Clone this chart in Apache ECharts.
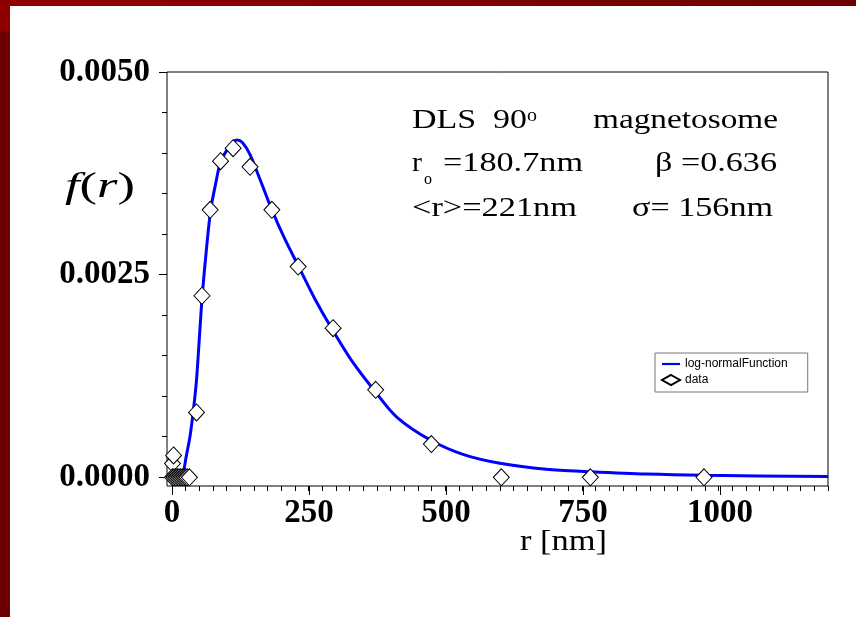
<!DOCTYPE html>
<html>
<head>
<meta charset="utf-8">
<script src="https://cdn.jsdelivr.net/npm/echarts@6/dist/echarts.min.js"></script>
<style>
  html, body { margin: 0; padding: 0; background: #fff; }
  #main { width: 856px; height: 617px; }
</style>
</head>
<body>
<div id="main"></div>
<script>
// fitted curve
var curveR = [0, 10, 18, 21, 25, 32, 38, 44, 51, 55, 62, 70, 79, 88, 100, 110, 118, 128, 142, 160, 182, 205, 231, 260, 292, 330, 373, 411, 472, 533, 602, 684, 765, 868, 975, 1200];
var curveF = [0, 0, 0.00001, 0.00009, 0.00025, 0.0005, 0.00081, 0.0012, 0.0019, 0.00228, 0.0028, 0.0033, 0.00362, 0.00389, 0.00404, 0.00413, 0.00416, 0.00413, 0.00398, 0.00368, 0.0033, 0.00295, 0.0026, 0.00221, 0.00183, 0.00142, 0.00104, 0.00074, 0.00046, 0.00028, 0.00017, 0.0001, 0.00007, 0.00004, 0.000025, 0.00001];

// measured points
var dataR = [0, 2, 0, 3, 6, 9, 12, 15, 18, 21, 24, 27, 31, 44, 54, 69, 88, 111, 142, 182, 230, 294, 372, 474, 602, 765, 973];
var dataF = [0.00017, 0.00027, 0, 0, 0, 0, 0, 0, 0, 0, 0, 0, 0, 0.0008, 0.00224, 0.0033, 0.0039, 0.00406, 0.00383, 0.0033, 0.0026, 0.00184, 0.00108, 0.00041, 0, 0, 0];

var xTicks = [0, 250, 500, 750, 1000];
var yTicks = ['0.0000', '0.0025', '0.0050'];

var serif = '"Liberation Serif", "Times New Roman", serif';

function zip(a, b) {
  var out = [];
  for (var i = 0; i < a.length; i++) out.push([a[i], b[i]]);
  return out;
}

var cv = document.createElement('canvas').getContext('2d');
function textW(t, size, style) {
  cv.font = (style || 'normal') + ' ' + size + 'px ' + serif;
  return cv.measureText(t).width;
}

// text stretched to span x0..x1 (the slide is stretched horizontally)
function label(t, x0, x1, yc, size, style) {
  var sx = x1 ? (x1 - x0) / textW(t, size, style) : 1;
  return {
    type: 'text', x: x0, y: yc, scaleX: sx, z: 20,
    style: {
      text: t, fill: '#000', fontFamily: serif, fontSize: size,
      fontStyle: style || 'normal', align: 'left', verticalAlign: 'middle'
    }
  };
}

var chart = echarts.init(document.getElementById('main'), null, { renderer: 'canvas' });

var fW = textW('f', 36, 'italic') + textW('(', 36) + textW('r', 36, 'italic') + textW(')', 36);

var tickStyle = { color: '#000', width: 1 };

var option = {
  backgroundColor: '#fff',
  animation: false,
  grid: [
    { left: 167, right: 28, top: 72, bottom: 131, show: true, borderColor: '#000', borderWidth: 1, outerBoundsMode: 'none' },
    { left: 172, right: 28, top: 72, bottom: 131, outerBoundsMode: 'none' },
    { left: 172, right: 136, top: 72, bottom: 131, outerBoundsMode: 'none' },
    { left: 167, right: 28, top: 72, bottom: 140, outerBoundsMode: 'none' }
  ],
  xAxis: [
    { gridIndex: 0, type: 'value', min: -10, max: 1200, show: false },
    {
      gridIndex: 1, type: 'value', min: 0, max: 1200, interval: 25, position: 'bottom',
      axisLine: { show: false }, splitLine: { show: false },
      axisTick: { length: 5, lineStyle: tickStyle }, axisLabel: { show: false }
    },
    {
      gridIndex: 2, type: 'value', min: xTicks[0], max: xTicks[xTicks.length - 1], interval: 250, position: 'bottom',
      axisLine: { show: false }, splitLine: { show: false },
      axisTick: { length: 9, lineStyle: tickStyle },
      axisLabel: { color: '#000', fontFamily: serif, fontWeight: 'bold', fontSize: 33, margin: 11,
        formatter: function (v) { return xTicks.indexOf(v) >= 0 ? String(v) : ''; } }
    },
    { gridIndex: 3, type: 'value', min: 0, max: 1, show: false }
  ],
  yAxis: [
    { gridIndex: 0, type: 'value', min: -0.000107, max: 0.005, show: false },
    { gridIndex: 1, type: 'value', min: 0, max: 1, show: false },
    { gridIndex: 2, type: 'value', min: 0, max: 1, show: false },
    {
      gridIndex: 3, type: 'value', min: 0, max: 0.005, interval: 0.0005, position: 'left', offset: 0,
      axisLine: { show: false }, splitLine: { show: false },
      axisTick: { length: 5, lineStyle: tickStyle }, axisLabel: { show: false }
    },
    {
      gridIndex: 3, type: 'value', min: 0, max: 0.005, interval: 0.0025, position: 'left', offset: 0,
      axisLine: { show: false }, splitLine: { show: false },
      axisTick: { length: 8, lineStyle: tickStyle },
      axisLabel: { color: '#000', fontFamily: serif, fontWeight: 'bold', fontSize: 33, margin: 17,
        formatter: function (v) { return yTicks[Math.round(v / 0.0025)]; } }
    }
  ],
  legend: {
    data: [
      { name: 'log-normalFunction', icon: 'path://M0,0 L20,0 L20,2.4 L0,2.4 Z' },
      { name: 'data', icon: 'diamond' }
    ],
    orient: 'vertical', left: 655, top: 353,
    itemWidth: 18, itemHeight: 10, itemGap: 4,
    padding: [5, 20, 6, 6],
    borderColor: '#777', borderWidth: 1, backgroundColor: '#fff',
    textStyle: { color: '#000', fontFamily: '"Liberation Sans", Arial, sans-serif', fontSize: 12 }
  },
  graphic: [
    { type: 'rect', shape: { x: 0, y: 0, width: 856, height: 6 }, z: 1,
      style: { fill: new echarts.graphic.LinearGradient(0, 0, 1, 0, [
        { offset: 0, color: '#920000' }, { offset: 1, color: '#6c0000' }]) } },
    { type: 'rect', shape: { x: 0, y: 0, width: 10, height: 617 }, z: 1,
      style: { fill: new echarts.graphic.LinearGradient(0, 0, 0, 1, [
        { offset: 0, color: '#8e0000' }, { offset: 0.05, color: '#8e0000' },
        { offset: 0.052, color: '#6c0000' }, { offset: 1, color: '#6c0000' }]) } },
    label('DLS  90', 412, 527, 120.5, 28),
    label('o', 527, 537, 116, 18),
    label('magnetosome', 593, 778, 120.5, 28),
    label('r', 412, 422, 163.5, 28),
    label('o', 424, 432, 180, 16),
    label('=180.7nm', 443, 583, 163.5, 28),
    label('\u03b2 =0.636', 655, 777, 163.5, 28),
    label('<r>=221nm', 412, 577, 208.5, 28),
    label('\u03c3= 156nm', 632, 773, 208.5, 28),
    label('r [nm]', 520, 607, 542, 30),
    {
      type: 'text', x: 65, y: 187.5, scaleX: 70 / fW, z: 20,
      style: {
        text: '{i|f}({i|r})', fill: '#000', fontFamily: serif, fontSize: 36,
        align: 'left', verticalAlign: 'middle',
        rich: { i: { fontStyle: 'italic', fontFamily: serif, fontSize: 36, fill: '#000' } }
      }
    }
  ],
  series: [
    {
      name: 'log-normalFunction', type: 'line', xAxisIndex: 0, yAxisIndex: 0,
      data: zip(curveR, curveF), symbol: 'none',
      smooth: 0.3,
      lineStyle: { color: '#0000ff', width: 3 }, itemStyle: { color: '#0000ff' }, z: 2
    },
    {
      name: 'data', type: 'scatter', xAxisIndex: 0, yAxisIndex: 0,
      data: zip(dataR, dataF), symbol: 'diamond', symbolSize: [16, 17], clip: false,
      itemStyle: { color: '#fff', borderColor: '#000', borderWidth: 1, opacity: 1 }, z: 3
    }
  ]
};

chart.setOption(option);
</script>
</body>
</html>
